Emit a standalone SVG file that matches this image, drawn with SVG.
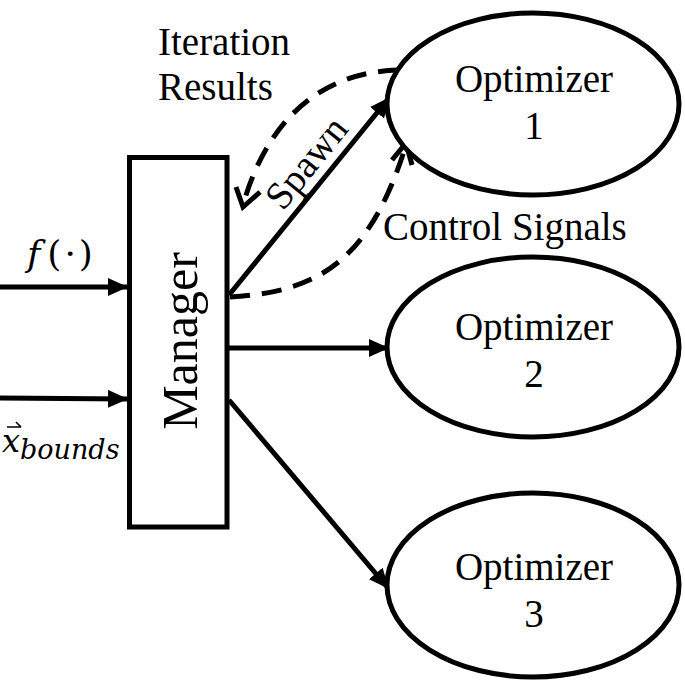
<svg xmlns="http://www.w3.org/2000/svg" width="685" height="688" viewBox="0 0 685 688">
<style>
.t{font-family:"Liberation Serif","Times New Roman",serif;font-size:39px;fill:#000}
.big{font-family:"Liberation Serif","Times New Roman",serif;font-size:50px;fill:#000}
.m{font-family:"DejaVu Serif","Liberation Serif",serif;fill:#000}
.node{fill:#fff;stroke:#000;stroke-width:5}
.ln{fill:none;stroke:#000;stroke-width:5}
.dash{fill:none;stroke:#000;stroke-width:5;stroke-dasharray:20 12}
.open{fill:none;stroke:#000;stroke-width:5;stroke-linejoin:miter}
</style>
<defs>
<marker id="ah" markerUnits="userSpaceOnUse" markerWidth="20" markerHeight="18" refX="19" refY="9" orient="auto">
<path d="M0,0 L20,9 L0,18 z" fill="#000"/>
</marker>
</defs>
<g id="connectors">
<line class="ln" x1="0" y1="287" x2="127" y2="287" marker-end="url(#ah)"/>
<line class="ln" x1="0" y1="398" x2="127" y2="399" marker-end="url(#ah)"/>
<line class="ln" x1="229" y1="295" x2="389" y2="98" marker-end="url(#ah)"/>
<line class="ln" x1="229" y1="348" x2="388" y2="348" marker-end="url(#ah)"/>
<line class="ln" x1="229" y1="400" x2="388" y2="588" marker-end="url(#ah)"/>
<path class="dash" d="M398,70 C330,72 270,110 243,205"/>
<path class="open" d="M236,187 L243,207 L260,192"/>
<path class="dash" d="M230,297 C320,292 370,260 406,145"/>
<path class="open" d="M392,160 L406,143 L412,165"/>
</g>
<g id="manager">
<rect class="node" x="129.5" y="157.5" width="97.5" height="369.5"/>
<text class="big" transform="translate(197,341) rotate(-90)" text-anchor="middle">Manager</text>
</g>
<g id="optimizer1">
<ellipse class="node" cx="533" cy="104" rx="146" ry="91"/>
<text class="t" x="534" y="92" text-anchor="middle">Optimizer</text>
<text class="t" x="534" y="139" text-anchor="middle">1</text>
</g>
<g id="optimizer2">
<ellipse class="node" cx="533" cy="347" rx="146" ry="90"/>
<text class="t" x="534" y="340" text-anchor="middle">Optimizer</text>
<text class="t" x="534" y="387" text-anchor="middle">2</text>
</g>
<g id="optimizer3">
<ellipse class="node" cx="533" cy="585" rx="146" ry="92"/>
<text class="t" x="534" y="580" text-anchor="middle">Optimizer</text>
<text class="t" x="534" y="627" text-anchor="middle">3</text>
</g>
<g id="labels">
<text class="t" x="158" y="55">Iteration</text>
<text class="t" x="158" y="100">Results</text>
<text class="t" x="383" y="240">Control Signals</text>
<text class="t" transform="translate(283,212) rotate(-51)">Spawn</text>
<text class="m" font-size="36" x="27" y="266"><tspan font-style="italic">f</tspan><tspan dx="7">(</tspan><tspan dx="3">·</tspan><tspan dx="3">)</tspan></text>
<text class="m" font-size="32" x="2" y="452" font-style="italic">x<tspan font-size="27" dy="7">bounds</tspan></text>
<path d="M7,427 L21,427 M16,422 L21,427" fill="none" stroke="#000" stroke-width="1.6"/>
</g>
</svg>
